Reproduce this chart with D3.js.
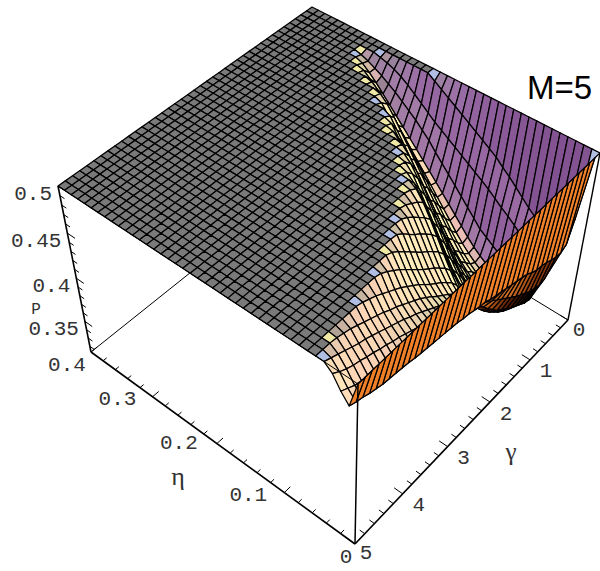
<!DOCTYPE html>
<html><head><meta charset="utf-8">
<script src="https://cdn.jsdelivr.net/npm/d3@7/dist/d3.min.js"></script>
<style>html,body{margin:0;padding:0;background:#fff}svg{display:block}</style>
</head><body><svg id="c" width="600" height="571"></svg>
<script>
// ---- data ----
const title = "M=5";
const etaTicks = [0, 0.1, 0.2, 0.3, 0.4];
const etaTickLabels = ["0", "0.1", "0.2", "0.3", "0.4"];
const gammaTicks = [0, 1, 2, 3, 4, 5];
const gammaTickLabels = ["0", "1", "2", "3", "4", "5"];
const pTicks = [0.5, 0.45, 0.4, 0.35];
const pTickLabels = ["0.5", "0.45", "0.4", "0.35"];
const etaStep = 0.01, gammaStep = 0.125, cellsPerAxis = 40;
const plateau = 0.5, pFloor = 0.313;
// P below the 0.5 plateau: one row per gamma index, entries for eta index 1,2,...
// (entries not listed lie on the plateau)
const valleyRows = [
[],
[.43,.42,.412,.408,.405,.41,.416,.423,.43,.437,.443,.45,.455,.46,.465,.47,.475,.48,.485,.49,.495],
[.408,.39,.38,.377,.38,.385,.391,.397,.403,.408,.414,.42,.425,.43,.435,.44,.445,.45,.455,.46,.466,.472,.478,.484,.489,.493,.496,.498],
[.404,.38,.365,.358,.356,.356,.358,.361,.365,.37,.375,.38,.388,.396,.404,.412,.42,.428,.436,.445,.452,.459,.465,.471,.477,.482,.487,.491,.495,.498],
[.405,.375,.355,.348,.345,.345,.345,.347,.35,.354,.359,.365,.372,.38,.388,.396,.404,.412,.42,.428,.436,.444,.452,.46,.468,.476,.484,.491,.497],
[.407,.374,.352,.345,.343,.342,.343,.345,.348,.352,.357,.363,.37,.378,.387,.396,.405,.414,.423,.432,.441,.45,.459,.468,.477,.485,.492,.498],
[.41,.376,.354,.347,.345,.345,.346,.348,.351,.355,.361,.368,.376,.385,.395,.405,.415,.425,.435,.445,.455,.465,.475,.484,.492,.498],
[.412,.378,.358,.35,.348,.348,.35,.353,.357,.362,.368,.376,.385,.395,.405,.415,.426,.437,.448,.459,.47,.481,.491,.498],
[.413,.382,.362,.353,.351,.352,.354,.358,.362,.368,.375,.383,.392,.402,.412,.422,.432,.443,.454,.465,.476,.487,.497],
[.416,.386,.366,.357,.355,.357,.36,.365,.371,.378,.387,.397,.408,.419,.43,.441,.452,.463,.474,.485,.496],
[.42,.39,.371,.362,.36,.363,.367,.373,.38,.388,.398,.409,.42,.431,.442,.453,.464,.475,.486,.497],
[.422,.395,.376,.368,.366,.369,.375,.382,.39,.4,.411,.423,.435,.447,.459,.471,.482,.491,.498],
[.424,.4,.381,.374,.373,.377,.384,.393,.403,.415,.428,.441,.454,.467,.479,.49,.498],
[.426,.405,.388,.381,.381,.386,.394,.404,.415,.428,.441,.454,.467,.48,.491,.498],
[.428,.41,.395,.389,.39,.395,.404,.414,.426,.439,.452,.465,.478,.49,.498],
[.43,.415,.403,.398,.4,.406,.417,.428,.441,.455,.468,.48,.49,.497],
[.432,.42,.411,.407,.41,.418,.43,.443,.457,.471,.484,.494,.499],
[.434,.425,.418,.416,.419,.427,.438,.451,.465,.478,.49,.498],
[.437,.429,.423,.421,.425,.433,.444,.457,.471,.484,.494],
[.438,.432,.428,.427,.431,.439,.45,.463,.477,.49,.498],
[.44,.435,.432,.432,.436,.444,.455,.468,.482,.495],
[.442,.438,.436,.437,.441,.449,.46,.474,.488,.499],
[.443,.44,.44,.442,.447,.455,.466,.48,.494],
[.445,.442,.443,.446,.452,.461,.472,.486,.499],
[.446,.444,.446,.45,.457,.466,.478,.492],
[.447,.446,.449,.454,.461,.471,.484,.497],
[.448,.448,.452,.458,.465,.476,.489],
[.449,.45,.455,.461,.469,.48,.494],
[.45,.452,.458,.465,.473,.484,.498],
[.451,.454,.461,.468,.476,.488],
[.452,.456,.464,.471,.48,.492],
[.454,.458,.466,.474,.483,.495],
[.455,.46,.469,.477,.486,.498],
[.456,.462,.471,.48,.489],
[.457,.464,.474,.483,.492],
[.458,.466,.476,.485,.495],
[.46,.468,.479,.488,.497],
[.462,.47,.481,.491,.499],
[.465,.472,.484,.494],
[.467,.476,.488,.497],
[.47,.48,.493]
];
// ---- scales and projection ----
const uScale = d3.scaleLinear().domain([0, 0.4]).range([0, 1]);
const vScale = d3.scaleLinear().domain([0, 5]).range([0, 1]);
const tScale = d3.scaleLinear().domain([pFloor, plateau]).range([0, 1]);
// box corners on screen: [u=0 v=0], [u=1 v=0], [u=1 v=1], [u=0 v=1]
const boxTop = [[600,153],[312,7],[58,186],[358,384]];
const boxBottom = [[568,320],[320,169],[91,352],[355,544]];
const perspective = 0.92;
function homography(q){
  const [[x0,y0],[x1,y1],[x2,y2],[x3,y3]] = q;
  const dx1=x1-x2, dx2=x3-x2, sx=x0-x1+x2-x3, dy1=y1-y2, dy2=y3-y2, sy=y0-y1+y2-y3;
  const det=dx1*dy2-dx2*dy1;
  const g=(sx*dy2-dx2*sy)/det, h=(dx1*sy-sx*dy1)/det;
  const a=x1-x0+g*x1, b=x3-x0+h*x3, d=y1-y0+g*y1, e=y3-y0+h*y3;
  return (u,v)=>{const w=g*u+h*v+1; return [(a*u+b*v+x0)/w,(d*u+e*v+y0)/w];};
}
const hTop = homography(boxTop), hBottom = homography(boxBottom);
function project(eta, gamma, p){
  const u=uScale(eta), v=vScale(gamma), t=tScale(p);
  const A=hBottom(u,v), B=hTop(u,v);
  const f=t*perspective/((1-t)+t*perspective);
  return [A[0]+(B[0]-A[0])*f, A[1]+(B[1]-A[1])*f];
}
function P(i,j){const r=valleyRows[j]; return (i>0 && i<=r.length)? r[i-1] : plateau;}

// ---- drawing ----
const svg = d3.select("#c");
const line = d3.line();
const g = svg.append("g");
const ink = "#000";
function seg(a,b,w){g.append("path").attr("d",line([a,b])).attr("stroke",ink).attr("stroke-width",w).attr("fill","none");}

// hidden back floor lines
seg(project(.4,5,pFloor),project(.4,0,pFloor),1);
seg(project(0,0,pFloor),project(.4,0,pFloor),1);
seg(project(0,0,pFloor),project(0,0,plateau),1.4);

// surface cells
const clamp=x=>Math.max(0,Math.min(1,x));
function cellColour(i,j){
  const c=[P(i,j),P(i+1,j),P(i,j+1),P(i+1,j+1)];
  const avg=d3.mean(c);
  const z=p=>(p-plateau)/(plateau-pFloor)*0.4;
  const su=((z(c[1])+z(c[3]))-(z(c[0])+z(c[2])))/2/(1/cellsPerAxis);
  const sv=((z(c[2])+z(c[3]))-(z(c[0])+z(c[1])))/2/(1/cellsPerAxis);
  const n=Math.hypot(su,sv,1), nu=-su/n, nv=-sv/n, nz=1/n;
  const atPlateau=c.filter(p=>p>=0.4999).length;
  if(atPlateau===4) return {fill:"rgb(122,122,122)",under:false};
  if(atPlateau===3){
    const blue = j===0 || (j>=20 ? (i+j)%3!==0 : (i+2*j)%3===0);
    return {fill:blue?"rgb(176,190,228)":"rgb(240,232,165)",under:false};
  }
  if((su<-0.02 && j>0) || i===0){
    const t=clamp((avg-0.362)/(0.41-0.362));
    const s=i===0?1:t*0.85;
    return {fill:d3.rgb(240*s,128*s*(0.4+0.6*t),40*s*t).formatRgb(),under:true};
  }
  const base=0.15+0.32*nz, a=Math.max(0,-nu)*(nv>0.3?0.25:1), b=Math.max(0,-nv), d=Math.max(0,nv);
  const warm=nv>0.3?0:1;
  const r=base+0.715*a+0.435*b+0.32*d+0.07*warm;
  const gg=base+0.49*a+0.586*b+0.13*d+0.04*warm;
  const bl=base+0.40*a+0.233*b+0.38*d+0.03*warm;
  return {fill:d3.rgb(255*clamp(r),255*clamp(gg),255*clamp(bl)).formatRgb(),under:false};
}
const cells=[];
for(let j=0;j<cellsPerAxis;j++) for(let i=cellsPerAxis-1;i>=0;i--){
  const col=cellColour(i,j);
  cells.push({i,j,fill:col.fill,layer:i===0?2:(col.under?1:0)});
}
const order=[...cells.filter(c=>c.layer===0),...cells.filter(c=>c.layer===1),...cells.filter(c=>c.layer===2)];
const pt=(i,j)=>project(i*etaStep,j*gammaStep,P(i,j));
g.selectAll("path.cell").data(order).enter().append("path").attr("class","cell")
  .attr("d",d=>line([pt(d.i,d.j),pt(d.i+1,d.j),pt(d.i+1,d.j+1),pt(d.i,d.j+1)])+"Z")
  .attr("fill",d=>d.fill).attr("stroke",ink).attr("stroke-width",1.25).attr("stroke-linejoin","round");

// front box edges and axes
seg(project(.4,5,plateau),project(0,5,plateau),1);
seg(project(0,5,plateau),project(0,0,plateau),1);
seg(project(0,5,plateau),project(0,5,pFloor),1.5);
seg(project(.4,5,plateau),project(.4,5,pFloor),1.6);
seg(project(.4,5,pFloor),project(0,5,pFloor),1.6);
seg(project(0,5,pFloor),project(0,0,pFloor),1.6);

// tick marks
d3.range(0,0.4001,0.02).forEach((e,k)=>{
  const major=k%5===0; seg(project(e,5,pFloor),project(e,major?4.88:4.93,pFloor),1);
});
d3.range(0,5.001,0.2).forEach((c,k)=>{
  const major=k%5===0; seg(project(0,c,pFloor),project(major?0.012:0.007,c,pFloor),1);
});
d3.range(0.32,0.5001,0.01).forEach((p,k)=>{
  const major=Math.round(p*100)%5===0; seg(project(.4,5,p),project(major?.388:.393,5,p),1);
});

// labels
const mono="'Liberation Mono',monospace";
function label(pos,dx,dy,txt,size,family,anchor,weight){
  svg.append("text").attr("x",pos[0]+dx).attr("y",pos[1]+dy).attr("text-anchor",anchor||"middle")
    .attr("dominant-baseline","central").attr("font-family",family).attr("font-size",size)
    .attr("font-weight",weight||"normal").attr("fill","#333").text(txt);
}
const etaOff=[[-9,13],[-36,3],[-38,0],[-35,3],[-24,13]];
etaTicks.forEach((e,k)=>label(project(e,5,pFloor),etaOff[k][0],etaOff[k][1],etaTickLabels[k],21,mono));
const gamOff=[[11,10],[16,12],[16,12],[16,12],[16,12],[11,9]];
gammaTicks.forEach((c,k)=>label(project(0,c,pFloor),gamOff[k][0],gamOff[k][1],gammaTickLabels[k],21,mono));
pTicks.forEach((p,k)=>label(project(.4,5,p),-6,8,pTickLabels[k],21,mono,"end"));
label([178,476],0,0,"η",26,"'Liberation Serif',serif");
label([511,451],0,0,"γ",25,"'Liberation Serif',serif");
label([36,310],0,0,"P",16,mono);
svg.append("text").attr("x",527).attr("y",99).attr("font-family","'Liberation Sans',Arial,sans-serif")
  .attr("font-size",33).attr("fill","#000").text(title);
</script></body></html>
